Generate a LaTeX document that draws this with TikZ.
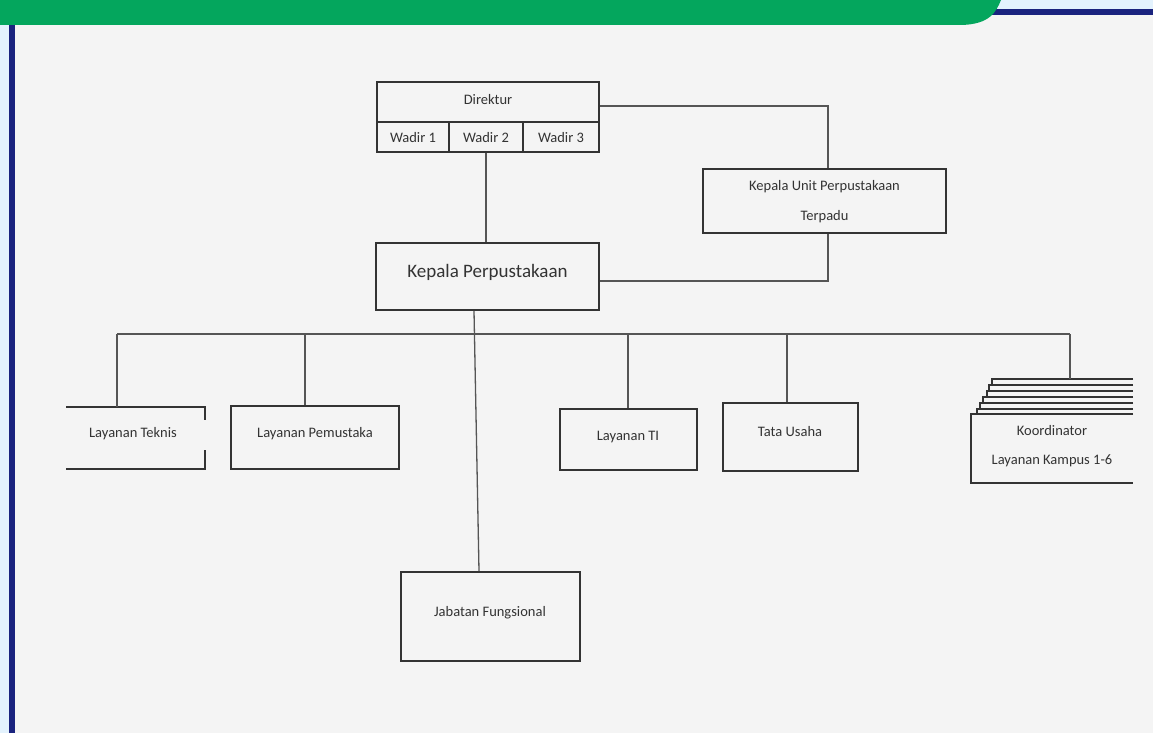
\documentclass[tikz,border=0pt]{standalone}
\usepackage{fontspec}
\setmainfont{Carlito}
\definecolor{bgc}{HTML}{F4F4F4}
\definecolor{lblue}{HTML}{E3F2FD}
\definecolor{dblue}{HTML}{1A237E}
\definecolor{grn}{HTML}{04A65D}
\definecolor{linec}{HTML}{555555}
\definecolor{boxc}{HTML}{333333}
\definecolor{txtc}{HTML}{333333}
\begin{document}
\begin{tikzpicture}[x=1pt,y=-1pt,
  box/.style={draw=boxc,line width=1.7pt,inner sep=0pt,fill=none},
  lbl/.style={text=txtc,font=\fontsize{14.5}{17}\selectfont,inner sep=0pt,align=center},
  big/.style={text=txtc,font=\fontsize{19}{22}\selectfont,inner sep=0pt},
  conn/.style={draw=linec,line width=1.3pt},
  edge/.style={draw=boxc,line width=1.7pt,line cap=rect}]
\useasboundingbox (0,0) rectangle (1153,733);
% background
\fill[bgc] (0,0) rectangle (1153,733);
\fill[lblue] (0,0) rectangle (9,733);
\fill[dblue] (9,20) rectangle (15,733);
\fill[lblue] (950,0) rectangle (1153,9);
\fill[dblue] (950,9) rectangle (1153,15);
\fill[grn] (0,0) -- (1001,0) .. controls (996,12) and (990,24) .. (962,25) -- (0,25) -- cycle;
% Direktur block
\node[box,minimum width=222pt,minimum height=40pt] (dir) at (488,102) {};
\node[lbl] (dirt) at (488,100) {Direktur};
\node[box,minimum width=72pt,minimum height=30pt] (w1) at (413,137) {};
\node[box,minimum width=74pt,minimum height=30pt] (w2) at (486,137) {};
\node[box,minimum width=76pt,minimum height=30pt] (w3) at (561,137) {};
\node[lbl] (w1t) at (413,138) {Wadir 1};
\node[lbl] (w2t) at (486,138) {Wadir 2};
\node[lbl] (w3t) at (561,138) {Wadir 3};
% Kepala Unit
\node[box,minimum width=243pt,minimum height=64pt] (kpu) at (824.5,201) {};
\node[lbl] (kput) at (824.5,201.5) {Kepala Unit Perpustakaan\\[13pt]Terpadu};
% Kepala Perpustakaan
\node[box,minimum width=223pt,minimum height=67pt] (kp) at (487.5,276.5) {};
\node[big] (kpt) at (487.5,272) {Kepala Perpustakaan};
% Layanan Teknis (partly cut)
\node[lbl] (lt) at (133,434) {Layanan Teknis};
\coordinate (ltTL) at (66,407);
\coordinate (ltTR) at (205,407);
\coordinate (ltBL) at (66,469);
\coordinate (ltBR) at (205,469);
\draw[edge,line cap=butt] (ltTL) -- (ltTR) -- ([yshift=-13pt]ltTR);
\draw[edge,line cap=butt] (ltBL) -- (ltBR) -- ([yshift=19pt]ltBR);
% Layanan Pemustaka
\node[box,minimum width=168pt,minimum height=63pt] (lp) at (315,437.5) {};
\node[lbl] (lpt) at (315,434) {Layanan Pemustaka};
% Layanan TI
\node[box,minimum width=137pt,minimum height=61pt] (lti) at (628.5,439.5) {};
\node[lbl] (ltit) at (628,437) {Layanan TI};
% Tata Usaha
\node[box,minimum width=135pt,minimum height=68pt] (tu) at (790.5,437) {};
\node[lbl] (tut) at (790,432) {Tata Usaha};
% Koordinator stack (cut at right)
\foreach \x/\y/\yn in {992/379/385,989/385/391,987/391/397,983/397/403,980/403/409,977/409/414}{
  \draw[edge,line width=1.4pt,line cap=butt] (1133,\y) -- (\x,\y) -- (\x,\yn);
}
\coordinate (koTL) at (971,414);
\coordinate (koBL) at (971,483);
\draw[edge,line cap=butt] (1133,414) -- (koTL) -- (koBL) -- (1133,483);
\node[lbl] (kot) at (1052,446) {Koordinator\\[12.5pt]Layanan Kampus 1-6};
\coordinate (koTop) at (1070,379);
% Jabatan Fungsional
\node[box,minimum width=179pt,minimum height=89pt] (jf) at (490.5,616.5) {};
\node[lbl] (jft) at (490,613) {Jabatan Fungsional};
% connectors
\draw[conn] ([yshift=-4pt]dir.east) -| ([xshift=3.5pt]kpu.north);
\draw[conn] ([xshift=3.5pt]kpu.south) |- ([yshift=-4.5pt]kp.east);
\draw[conn] (w2.south) -- (w2.south |- kp.north);
\draw[conn] ([xshift=-13.5pt]kp.south) -- ([xshift=-11.5pt]jf.north);
\coordinate (busL) at (117,334);
\coordinate (busR) at (1070,334);
\draw[conn] (busL) -- (busR);
\draw[conn] (busL) -- (117,407);
\coordinate (b2) at (305,334);
\draw[conn] (b2) -- (b2 |- lp.north);
\coordinate (b3) at (628,334);
\draw[conn] (b3) -- (b3 |- lti.north);
\coordinate (b4) at (787,334);
\draw[conn] (b4) -- (b4 |- tu.north);
\draw[conn] (busR) -- (koTop);
\end{tikzpicture}
\end{document}
